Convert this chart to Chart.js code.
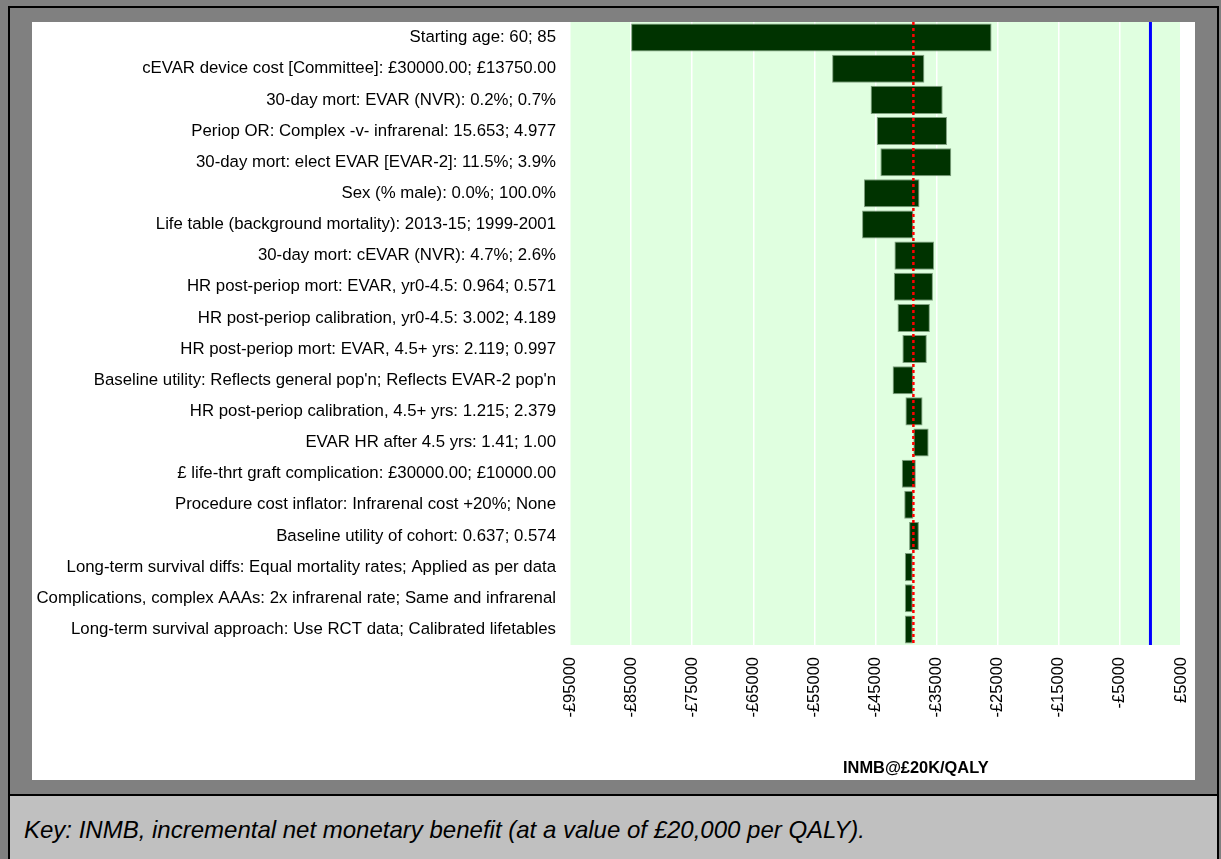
<!DOCTYPE html>
<html>
<head>
<meta charset="utf-8">
<script src="https://cdn.jsdelivr.net/npm/chart.js@4.4.1/dist/chart.umd.min.js"></script>
<style>
    body { margin: 0; background: #808080; width: 1221px; height: 859px; overflow: hidden; font-family: "Liberation Sans", Arial, sans-serif; }
    #frame { position: absolute; left: 8px; top: 6px; width: 1207px; height: 900px; border: 2px solid #000; background: #808080; }
    #panel { position: absolute; left: 32px; top: 22px; width: 1163px; height: 758px; background: #fff; }
    #key { position: absolute; left: 10px; top: 794px; width: 1207px; height: 80px; border-top: 2px solid #000; background: #c0c0c0; }
    #keyText { position: absolute; left: 14px; top: 20px; font-size: 24px; font-style: italic; color: #000; }
    #xTitle { position: absolute; left: 843px; top: 758px; font-size: 16.4px; font-weight: bold; color: #000; }
</style>
</head>
<body>
<div id="frame"></div>
<div id="panel"><canvas id="tornado"></canvas></div>
<div id="xTitle">INMB@£20K/QALY</div>
<div id="key"><div id="keyText">Key: INMB, incremental net monetary benefit (at a value of £20,000 per QALY).</div></div>
<script>
// Parameters varied in the one-way sensitivity analysis
const parameters = [
    'Starting age: 60; 85',
    'cEVAR device cost [Committee]: £30000.00; £13750.00',
    '30-day mort: EVAR (NVR): 0.2%; 0.7%',
    'Periop OR: Complex -v- infrarenal: 15.653; 4.977',
    '30-day mort: elect EVAR [EVAR-2]: 11.5%; 3.9%',
    'Sex (% male): 0.0%; 100.0%',
    'Life table (background mortality): 2013-15; 1999-2001',
    '30-day mort: cEVAR (NVR): 4.7%; 2.6%',
    'HR post-periop mort: EVAR, yr0-4.5: 0.964; 0.571',
    'HR post-periop calibration, yr0-4.5: 3.002; 4.189',
    'HR post-periop mort: EVAR, 4.5+ yrs: 2.119; 0.997',
    "Baseline utility: Reflects general pop'n; Reflects EVAR-2 pop'n",
    'HR post-periop calibration, 4.5+ yrs: 1.215; 2.379',
    'EVAR HR after 4.5 yrs: 1.41; 1.00',
    '£ life-thrt graft complication: £30000.00; £10000.00',
    'Procedure cost inflator: Infrarenal cost +20%; None',
    'Baseline utility of cohort: 0.637; 0.574',
    'Long-term survival diffs: Equal mortality rates; Applied as per data',
    'Complications, complex AAAs: 2x infrarenal rate; Same and infrarenal',
    'Long-term survival approach: Use RCT data; Calibrated lifetables'
];

// INMB range for each parameter (low end, high end)
const lowValues = [-85000, -52100, -45800, -44800, -44200, -46900, -47200, -41900, -42000, -41400,
    -40600, -42200, -40100, -38800, -40700, -40300, -39500, -40200, -40200, -40200];
const highValues = [-26000, -37000, -34000, -33300, -32600, -37800, -38800, -35400, -35600, -36100,
    -36600, -38800, -37300, -36300, -38400, -38800, -37900, -38900, -38900, -38900];

const baseCase = -38800;
const zeroLine = 0;
const tickValues = [-95000, -85000, -75000, -65000, -55000, -45000, -35000, -25000, -15000, -5000, 5000];

const ranges = lowValues.map((lo, i) => [lo, highValues[i]]);

// Green plot background
const plotBackground = {
    id: 'plotBackground',
    beforeDraw(chart) {
        const { ctx, chartArea: a } = chart;
        ctx.save();
        ctx.fillStyle = '#e0ffe0';
        ctx.fillRect(a.left, a.top, a.right - a.left, a.bottom - a.top);
        ctx.restore();
    }
};

// Base case (red dotted) and zero (blue) reference lines
const refLines = {
    id: 'refLines',
    afterDatasetsDraw(chart) {
        const { ctx, chartArea: a, scales } = chart;
        const xBase = scales.x.getPixelForValue(baseCase);
        const xZero = scales.x.getPixelForValue(zeroLine);
        ctx.save();
        ctx.strokeStyle = '#0000ff';
        ctx.lineWidth = 3;
        ctx.beginPath();
        ctx.moveTo(xZero, a.top);
        ctx.lineTo(xZero, a.bottom);
        ctx.stroke();
        ctx.strokeStyle = '#ff0000';
        ctx.lineWidth = 2.5;
        ctx.setLineDash([3, 3]);
        ctx.beginPath();
        ctx.moveTo(xBase, a.top);
        ctx.lineTo(xBase, a.bottom);
        ctx.stroke();
        ctx.restore();
    }
};

// no extra padding from tick labels, the plot box is fixed
function noPadding(s) {
    s.paddingTop = 0;
    s.paddingBottom = 0;
    s.paddingLeft = 0;
    s.paddingRight = 0;
}

Chart.defaults.font.family = '"Liberation Sans", Arial, sans-serif';
Chart.defaults.color = '#000';

new Chart(document.getElementById('tornado'), {
    type: 'bar',
    data: {
        labels: parameters,
        datasets: [{
            data: ranges,
            backgroundColor: '#003300',
            borderColor: '#7fa07f',
            borderWidth: 1,
            borderSkipped: false,
            barPercentage: 0.9,
            categoryPercentage: 1
        }]
    },
    options: {
        indexAxis: 'y',
        responsive: true,
        maintainAspectRatio: false,
        animation: false,
        layout: { padding: { left: 0, right: 14, top: 0, bottom: 0 } },
        plugins: {
            legend: { display: false },
            tooltip: { enabled: false }
        },
        scales: {
            x: {
                type: 'linear',
                min: -95000,
                max: 5000,
                afterBuildTicks: s => { s.ticks = tickValues.map(v => ({ value: v })); },
                afterFit: s => { s.height = 135; noPadding(s); },
                grid: { color: '#ffffff', lineWidth: 1.5, drawTicks: false },
                border: { display: false },
                ticks: {
                    autoSkip: false,
                    minRotation: 90,
                    maxRotation: 90,
                    padding: 12,
                    font: { size: 16.5 },
                    callback: v => (v < 0 ? '-£' : '£') + Math.abs(v)
                }
            },
            y: {
                afterFit: s => { s.width = 538; noPadding(s); },
                grid: { display: false, drawTicks: false },
                border: { display: false },
                ticks: {
                    autoSkip: false,
                    padding: 14,
                    font: { size: 16.8 }
                }
            }
        }
    },
    plugins: [plotBackground, refLines]
});
</script>
</body>
</html>
